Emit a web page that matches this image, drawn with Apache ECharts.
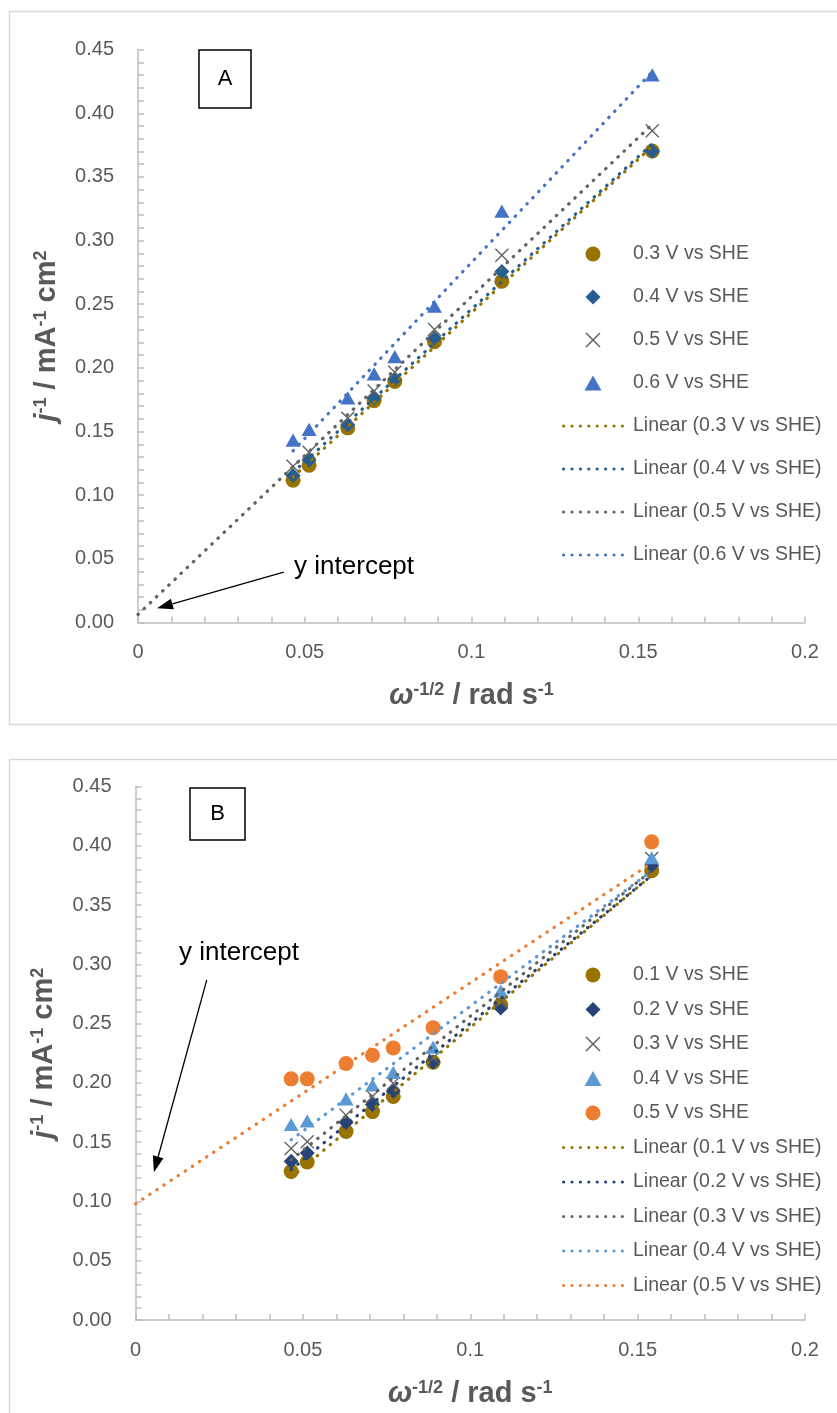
<!DOCTYPE html>
<html>
<head>
<meta charset="utf-8">
<script src="https://cdn.jsdelivr.net/npm/echarts@6/dist/echarts.min.js"></script>
<style>
  html, body { margin: 0; padding: 0; background: #ffffff; }
  #panelA { position: absolute; left: 0; top: 0; width: 837px; height: 742px; }
  #panelB { position: absolute; left: 0; top: 742px; width: 837px; height: 671px; }
</style>
</head>
<body>
<div id="panelA"></div>
<div id="panelB"></div>
<script>
// ---- data -------------------------------------------------------------
// abscissa: ω^-1/2 in rad^-1/2 s^1/2 (one value per rotation rate)
const omegaInvSqrt = [0.0465, 0.0513, 0.0629, 0.0708, 0.0770, 0.0889, 0.1091, 0.1542];

// panel A: inverse current density j^-1 (mA^-1 cm^2)
const labelsA = ['0.3 V vs SHE', '0.4 V vs SHE', '0.5 V vs SHE', '0.6 V vs SHE'];
const jInvA_03 = [0.1118, 0.1235, 0.1529, 0.1743, 0.1893, 0.2205, 0.2680, 0.3704];
const jInvA_04 = [0.1154, 0.1274, 0.1553, 0.1764, 0.1911, 0.2235, 0.2757, 0.3701];
const jInvA_05 = [0.1228, 0.1337, 0.1604, 0.1818, 0.1965, 0.2301, 0.2884, 0.3863];
const jInvA_06 = [0.1433, 0.1517, 0.1764, 0.1953, 0.2088, 0.2484, 0.3232, 0.4302];

// panel B
const labelsB = ['0.1 V vs SHE', '0.2 V vs SHE', '0.3 V vs SHE', '0.4 V vs SHE', '0.5 V vs SHE'];
const jInvB_01 = [0.1253, 0.1333, 0.1590, 0.1758, 0.1886, 0.2174, 0.2659, 0.3790];
const jInvB_02 = [0.1339, 0.1408, 0.1666, 0.1817, 0.1930, 0.2174, 0.2631, 0.3834];
const jInvB_03 = [0.1446, 0.1504, 0.1728, 0.1886, 0.1996, 0.2209, 0.2683, 0.3892];
const jInvB_04 = [0.1649, 0.1679, 0.1865, 0.1982, 0.2088, 0.2301, 0.2775, 0.3899];
const jInvB_05 = [0.2034, 0.2034, 0.2164, 0.2233, 0.2295, 0.2466, 0.2896, 0.4033];

// axis tick labels
const xTickLabels = ['0', '0.05', '0.1', '0.15', '0.2'];
const yTickLabels = ['0.00', '0.05', '0.10', '0.15', '0.20', '0.25', '0.30', '0.35', '0.40', '0.45'];

// ---- styling ----------------------------------------------------------
const FONT = '"Liberation Sans", Arial, sans-serif';
const TEXT_GREY = '#595959';
const AXIS_GREY = '#bfbfbf';
const CROSS = 'path://M0,7L7,0L50,43L93,0L100,7L57,50L100,93L93,100L50,57L7,100L0,93L43,50Z';
const DIAMOND = 'path://M50,0L100,50L50,100L0,50Z';
const TRIANGLE = 'path://M50,0L100,88L0,88Z';

// eight round dots in a row, used as the legend sample of a dotted trendline
function dottedIcon() {
  const r = 1.6, step = 8.4;
  let d = 'path://';
  for (let i = 0; i < 8; i++) {
    const cx = r + i * step;
    d += 'M' + (cx - r) + ',' + r + 'a' + r + ',' + r + ' 0 1,0 ' + (2 * r) + ',0' +
         'a' + r + ',' + r + ' 0 1,0 ' + (-2 * r) + ',0Z';
  }
  return d;
}
const DOTS = dottedIcon();

// least-squares straight line through a set of points
function linearFit(xs, ys) {
  const n = xs.length;
  const mx = xs.reduce((a, b) => a + b, 0) / n;
  const my = ys.reduce((a, b) => a + b, 0) / n;
  let sxy = 0, sxx = 0;
  for (let i = 0; i < n; i++) {
    sxy += (xs[i] - mx) * (ys[i] - my);
    sxx += (xs[i] - mx) * (xs[i] - mx);
  }
  const slope = sxy / sxx;
  return { slope, intercept: my - slope * mx };
}

function buildSeries(sets) {
  const scatter = [], lines = [];
  sets.forEach(s => {
    scatter.push({
      name: s.label, type: 'scatter',
      data: omegaInvSqrt.map((x, i) => [x, s.values[i]]),
      symbol: s.symbol, symbolSize: s.size, symbolKeepAspect: true,
      itemStyle: { color: s.color, opacity: 1 },
      z: 2, silent: true
    });
    const f = linearFit(omegaInvSqrt, s.values);
    const x0 = s.fromZero ? 0 : Math.min.apply(null, omegaInvSqrt);
    const x1 = Math.max.apply(null, omegaInvSqrt);
    lines.push({
      name: 'Linear (' + s.label + ')', type: 'line',
      data: [[x0, f.intercept + f.slope * x0], [x1, f.intercept + f.slope * x1]],
      symbol: 'none', showSymbol: false,
      itemStyle: { color: s.color },
      lineStyle: { color: s.color, width: 3.2, type: [0.5, 8], cap: 'round' },
      z: 3, silent: true
    });
  });
  return scatter.concat(lines);
}

const titleRich = {
  i: { fontFamily: FONT, fontSize: 29, fontWeight: 'bold', fontStyle: 'italic', color: TEXT_GREY },
  b: { fontFamily: FONT, fontSize: 29, fontWeight: 'bold', color: TEXT_GREY },
  s: { fontFamily: FONT, fontSize: 18, fontWeight: 'bold', color: TEXT_GREY, verticalAlign: 'top' }
};

function axisCommon() {
  return {
    type: 'value',
    axisLine: { show: true, onZero: false, lineStyle: { color: AXIS_GREY, width: 1.5 } },
    axisTick: { show: true, inside: true, length: 6, lineStyle: { color: AXIS_GREY, width: 1.5 } },
    minorTick: { show: true, splitNumber: 5, length: 6, lineStyle: { color: AXIS_GREY, width: 1.5 } },
    splitLine: { show: false },
    nameLocation: 'middle',
    nameTextStyle: { fontFamily: FONT, fontSize: 29, fontWeight: 'bold', color: TEXT_GREY, rich: titleRich }
  };
}

function buildPanel(cfg) {
  const chart = echarts.init(document.getElementById(cfg.el), null, { renderer: 'canvas' });
  const sets = cfg.sets;
  const legendData = sets.map(s => ({ name: s.label, icon: s.symbol }))
    .concat(sets.map(s => ({ name: 'Linear (' + s.label + ')', icon: DOTS })));

  const option = {
    animation: false,
    backgroundColor: '#ffffff',
    textStyle: { fontFamily: FONT },
    grid: cfg.grid,
    xAxis: Object.assign(axisCommon(), {
      min: 0, max: 0.2, interval: 0.05,
      axisLabel: {
        fontFamily: FONT, fontSize: 20, color: TEXT_GREY, margin: 20,
        formatter: v => xTickLabels[Math.round(v / 0.05)]
      },
      name: '{i|ω}{s|-1/2}{b| / rad s}{s|-1}',
      nameGap: 59
    }),
    yAxis: Object.assign(axisCommon(), {
      min: 0, max: 0.45, interval: 0.05,
      axisLabel: {
        fontFamily: FONT, fontSize: 20, color: TEXT_GREY, margin: 24,
        formatter: v => yTickLabels[Math.round(v / 0.05)]
      },
      name: '{i|j}{s|-1}{b| / mA}{s|-1}{b| cm}{s|2}',
      nameRotate: 90,
      nameGap: 77
    }),
    legend: {
      orient: 'vertical', left: 562, top: cfg.legendTop, padding: 0,
      itemWidth: 62, itemHeight: 15, itemGap: cfg.legendGap,
      selectedMode: false, symbolKeepAspect: true,
      itemStyle: { borderWidth: 0 },
      textStyle: { fontFamily: FONT, fontSize: 19.5, color: TEXT_GREY, lineHeight: 20, padding: [0, 0, 0, 4] },
      data: legendData
    },
    series: buildSeries(sets)
  };
  chart.setOption(option);

  // annotations: panel border, letter box, "y intercept" arrow
  const tail = chart.convertToPixel({ gridIndex: 0 }, cfg.arrowTail);
  const tip = chart.convertToPixel({ gridIndex: 0 }, cfg.arrowTip);
  const textPos = chart.convertToPixel({ gridIndex: 0 }, cfg.textAt);
  const dx = tip[0] - tail[0], dy = tip[1] - tail[1];
  const len = Math.sqrt(dx * dx + dy * dy);
  const ux = dx / len, uy = dy / len;
  const headLen = 16, headHalf = 5.5;
  const bx = tip[0] - ux * headLen, by = tip[1] - uy * headLen;
  const head = [
    [tip[0], tip[1]],
    [bx - uy * headHalf, by + ux * headHalf],
    [bx + uy * headHalf, by - ux * headHalf]
  ];

  chart.setOption({
    graphic: [
      { type: 'rect', shape: cfg.border, style: { fill: 'none', stroke: '#d9d9d9', lineWidth: 1.5 }, z: 0, silent: true },
      { type: 'rect', shape: cfg.box, style: { fill: '#ffffff', stroke: '#000000', lineWidth: 1.5 }, z: 10, silent: true },
      { type: 'text', x: cfg.box.x + cfg.box.width / 2, y: cfg.box.y + cfg.box.height / 2,
        style: { text: cfg.letter, fontFamily: FONT, fontSize: 22, fill: '#000000', align: 'center', verticalAlign: 'middle' }, z: 11, silent: true },
      { type: 'line', shape: { x1: tail[0], y1: tail[1], x2: bx, y2: by }, style: { stroke: '#000000', lineWidth: 1.3 }, z: 10, silent: true },
      { type: 'polygon', shape: { points: head }, style: { fill: '#000000' }, z: 10, silent: true },
      { type: 'text', x: textPos[0], y: textPos[1],
        style: { text: 'y intercept', fontFamily: FONT, fontSize: 26, fill: '#000000', align: 'left', verticalAlign: 'middle' }, z: 10, silent: true }
    ]
  });
  return chart;
}

buildPanel({
  el: 'panelA',
  grid: { left: 138, right: 32, top: 49.6, bottom: 119.5 },
  legendTop: 244, legendGap: 23,
  border: { x: 9.5, y: 11.5, width: 840, height: 713 },
  box: { x: 199, y: 50, width: 52, height: 58 },
  letter: 'A',
  arrowTail: [0.0437, 0.0396], arrowTip: [0.0057, 0.0111], textAt: [0.0468, 0.0436],
  sets: [
    { label: labelsA[0], values: jInvA_03, symbol: 'circle', size: 15, color: '#997300' },
    { label: labelsA[1], values: jInvA_04, symbol: DIAMOND, size: 15, color: '#255E91' },
    { label: labelsA[2], values: jInvA_05, symbol: CROSS, size: 14, color: '#636363', fromZero: true },
    { label: labelsA[3], values: jInvA_06, symbol: TRIANGLE, size: 15, color: '#4472C4' }
  ]
});

buildPanel({
  el: 'panelB',
  grid: { left: 135.5, right: 32, top: 44.5, bottom: 90.6 },
  legendTop: 223, legendGap: 14.5,
  border: { x: 9.5, y: 17.5, width: 840, height: 700 },
  box: { x: 190, y: 46, width: 55, height: 52 },
  letter: 'B',
  arrowTail: [0.0213, 0.2869], arrowTip: [0.0055, 0.1247], textAt: [0.013, 0.3093],
  sets: [
    { label: labelsB[0], values: jInvB_01, symbol: 'circle', size: 15, color: '#997300' },
    { label: labelsB[1], values: jInvB_02, symbol: DIAMOND, size: 15, color: '#264478' },
    { label: labelsB[2], values: jInvB_03, symbol: CROSS, size: 14, color: '#636363' },
    { label: labelsB[3], values: jInvB_04, symbol: TRIANGLE, size: 15, color: '#5B9BD5' },
    { label: labelsB[4], values: jInvB_05, symbol: 'circle', size: 15, color: '#ED7D31', fromZero: true }
  ]
});
</script>
</body>
</html>
